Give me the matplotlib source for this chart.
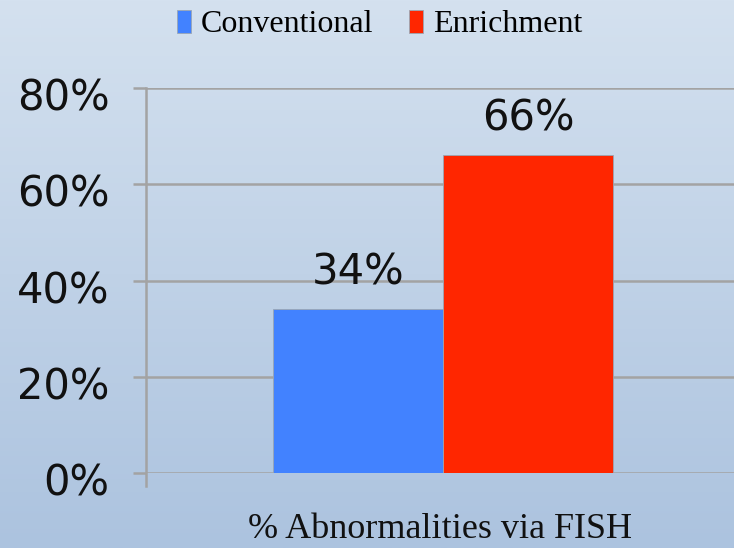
import numpy as np
import matplotlib
matplotlib.use("Agg")
import matplotlib.pyplot as plt
import matplotlib.transforms as mtransforms
from matplotlib.colors import LinearSegmentedColormap

# data
series = ["Conventional", "Enrichment"]
values = [0.34, 0.66]
value_labels = ["34%", "66%"]
colors = ["#4282FF", "#FF2600"]
yticks = [0.0, 0.2, 0.4, 0.6, 0.8]
ytick_labels = ["0%", "20%", "40%", "60%", "80%"]
xlabel = "% Abnormalities via FISH"

grid_color = "#A3A3A3"
serif = ["Liberation Serif", "DejaVu Serif"]

fig = plt.figure(figsize=(7.34, 5.48), dpi=100)

# gradient background
bg = fig.add_axes([0, 0, 1, 1], zorder=-10)
cmap = LinearSegmentedColormap.from_list("bg", ["#D4E1EF", "#ACC3DF"])
bg.imshow(np.linspace(0, 1, 256).reshape(-1, 1), aspect="auto", cmap=cmap,
          extent=[0, 1, 0, 1])
bg.axis("off")

ax = fig.add_axes([146 / 734, 75 / 548, 588 / 734, 385 / 548])
ax.patch.set_alpha(0)

bar_w = 1.0
for i, (name, v, c) in enumerate(zip(series, values, colors)):
    x = (i - 0.5) * bar_w
    ax.bar(x, v, width=bar_w, color=c, edgecolor="#9AA6B4", linewidth=0.6,
           label=name, zorder=3)
    ax.text(x, v + 0.032, value_labels[i], ha="center", va="bottom",
            fontsize=30, color="#111111", family="DejaVu Sans")

ax.set_xlim(-297 / 170, 291 / 170)
ax.set_ylim(0, 0.8)
ax.set_yticks(yticks)
ax.set_yticklabels(ytick_labels, fontsize=30, color="#111111")
ax.set_xticks([])
ax.tick_params(axis="y", direction="out", length=9.4, width=1.8,
               color=grid_color, pad=17)
# labels sit a little below their gridlines in the original
shift = mtransforms.ScaledTranslation(0, -6 / 100, fig.dpi_scale_trans)
for lbl in ax.get_yticklabels():
    lbl.set_transform(lbl.get_transform() + shift)
ax.yaxis.grid(True, color=grid_color, linewidth=1.8, zorder=0)
ax.set_axisbelow(True)
for s in ax.spines.values():
    s.set_visible(False)
ax.plot([ax.get_xlim()[0]] * 2, [-0.027, 0.8], color=grid_color,
        linewidth=1.8, clip_on=False, zorder=2)

ax.set_xlabel(xlabel, fontsize=26, family=serif, color="#111111", labelpad=29)

fig.legend(loc="upper center", bbox_to_anchor=(0.517, 1.035), ncol=2,
           frameon=False, prop={"family": serif, "size": 23},
           handlelength=0.45, handleheight=0.75, handletextpad=0.3,
           columnspacing=1.1)

fig.savefig("out.png", dpi=100)
